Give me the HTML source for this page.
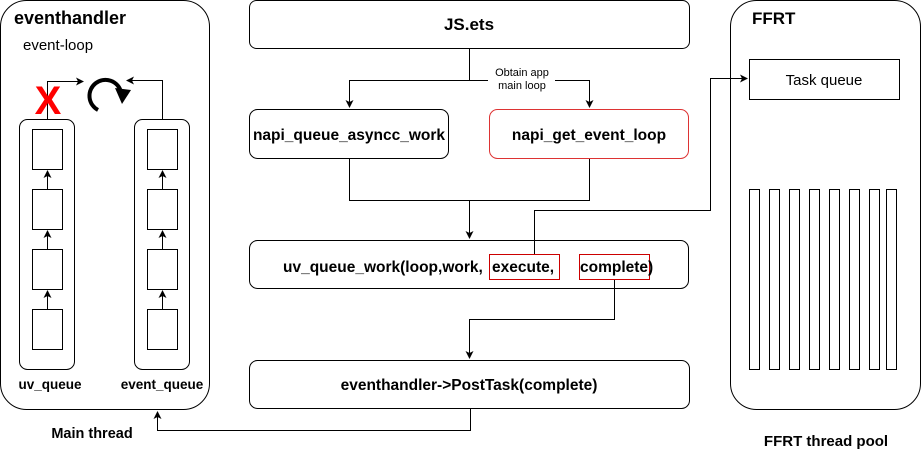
<!DOCTYPE html>
<html><head><style>body{margin:0;background:#fff}svg{display:block}</style></head><body>
<svg width="921" height="458" viewBox="0 0 921 458" xmlns="http://www.w3.org/2000/svg" font-family="Liberation Sans, sans-serif">
<defs><marker id="a" markerWidth="8" markerHeight="8" refX="7" refY="4" orient="auto" markerUnits="userSpaceOnUse"><path d="M0,0 L8,4 L0,8 L2,4z" fill="#000"/></marker></defs>
<g fill="none" stroke="#000" stroke-width="1">
<rect x="0.5" y="0.5" width="209" height="409" rx="26"/>
<rect x="19.5" y="119.5" width="55" height="250" rx="8"/>
<rect x="134.5" y="119.5" width="55" height="250" rx="8"/>
<rect x="32.5" y="129.5" width="30" height="40"/><rect x="32.5" y="189.5" width="30" height="40"/><rect x="32.5" y="249.5" width="30" height="40"/><rect x="32.5" y="309.5" width="30" height="40"/>
<rect x="147.5" y="129.5" width="30" height="40"/><rect x="147.5" y="189.5" width="30" height="40"/><rect x="147.5" y="249.5" width="30" height="40"/><rect x="147.5" y="309.5" width="30" height="40"/>
<path d="M47.5 309V291" marker-end="url(#a)"/><path d="M47.5 249V231" marker-end="url(#a)"/><path d="M47.5 189V171" marker-end="url(#a)"/>
<path d="M162.5 309V291" marker-end="url(#a)"/><path d="M162.5 249V231" marker-end="url(#a)"/><path d="M162.5 189V171" marker-end="url(#a)"/>
<path d="M47.5 119V81.5H83" marker-end="url(#a)"/>
<path d="M162.5 119V80.5H127" marker-end="url(#a)"/>
<path d="M98 110 A16 16 0 1 1 121 92" stroke-width="4"/>
<rect x="249.5" y="0.5" width="440" height="48" rx="7"/>
<path d="M469.5 49V80.5H488M555 80.5H589.5V107" marker-end="url(#a)"/>
<path d="M469.5 80.5H349.5V107" marker-end="url(#a)"/>
<rect x="249.5" y="109.5" width="199" height="49" rx="8"/>
<rect x="489.5" y="109.5" width="199" height="49" rx="8" stroke="#d33"/>
<path d="M349.5 159V200.5H589.5V159M469.5 200.5V238" marker-end="url(#a)"/>
<rect x="249.5" y="240.5" width="439" height="48" rx="8"/>
<rect x="489.5" y="254.5" width="70" height="25" stroke="#c00"/>
<rect x="579.5" y="254.5" width="70" height="25" stroke="#c00"/>
<path d="M534.5 254V210.5H710.5V78.5H747" marker-end="url(#a)"/>
<path d="M614.5 280V319.5H469.5V358" marker-end="url(#a)"/>
<rect x="249.5" y="360.5" width="440" height="48" rx="8"/>
<path d="M470.5 409V430.5H157.5V412" marker-end="url(#a)"/>
<rect x="730.5" y="0.5" width="190" height="409" rx="26"/>
<rect x="749.5" y="59.5" width="150" height="40"/>
<g><rect x="749.5" y="189.5" width="10" height="180"/><rect x="769.5" y="189.5" width="10" height="180"/><rect x="789.5" y="189.5" width="10" height="180"/><rect x="809.5" y="189.5" width="10" height="180"/><rect x="829.5" y="189.5" width="10" height="180"/><rect x="849.5" y="189.5" width="10" height="180"/><rect x="869.5" y="189.5" width="10" height="180"/><rect x="886.5" y="189.5" width="10" height="180"/></g>
</g>
<path d="M115 88 L131 90 L122 104z" fill="#000"/>
<text x="48" y="114" font-size="40" font-weight="bold" fill="#f00" text-anchor="middle">X</text>
<g font-weight="bold" font-size="15.5" fill="#000" text-anchor="middle">
<text x="14" y="24" font-size="18" text-anchor="start">eventhandler</text>
<text x="50" y="389" font-size="13.5">uv_queue</text><text x="162" y="389" font-size="13.5">event_queue</text>
<text x="92" y="438" font-size="14.5">Main thread</text>
<text x="469" y="30" font-size="17">JS.ets</text>
<text x="349" y="140">napi_queue_asyncc_work</text>
<text x="589" y="140">napi_get_event_loop</text>
<text x="283" y="272" text-anchor="start">uv_queue_work(loop,work,</text>
<text x="492" y="272" text-anchor="start">execute,</text>
<text x="580" y="272" text-anchor="start">complete)</text>
<text x="469" y="390">eventhandler-&gt;PostTask(complete)</text>
<text x="752" y="24" font-size="17" text-anchor="start">FFRT</text>
<text x="826" y="446" font-size="15">FFRT thread pool</text>
</g>
<text x="23" y="50" font-size="15">event-loop</text>
<text x="824" y="85" font-size="15" text-anchor="middle">Task queue</text>
<text x="522" y="76" font-size="11" text-anchor="middle">Obtain app</text>
<text x="522" y="89" font-size="11" text-anchor="middle">main loop</text>
</svg>
</body></html>
